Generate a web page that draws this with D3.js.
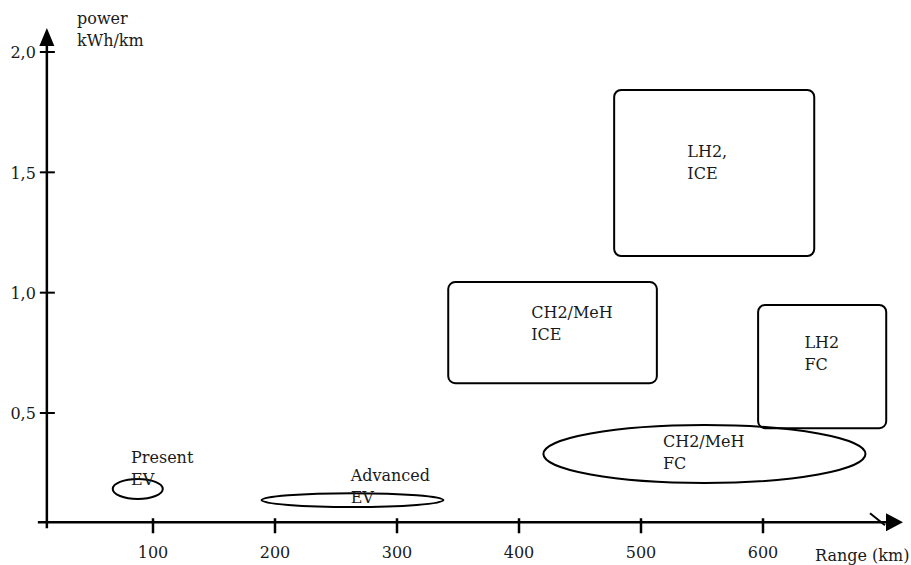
<!DOCTYPE html>
<html>
<head>
<meta charset="utf-8">
<script src="https://cdn.jsdelivr.net/npm/d3@7"></script>
<style>
  body { margin: 0; background: #fff; }
  text { font-family: "DejaVu Serif", serif; fill: #1a1a1a; }
</style>
</head>
<body>
<svg id="chart" width="911" height="565"></svg>
<script>
const W = 911, H = 565;

// tick values
const xTicks = [100, 200, 300, 400, 500, 600];
const yTicks = [0.5, 1.0, 1.5, 2.0];
const yTickLabels = ["0,5", "1,0", "1,5", "2,0"];

// ellipse regions: [x0, x1] range km, [y0, y1] kWh/km
const ellipseNames = ["Present EV", "Advanced EV", "CH2/MeH FC"];
const ellipseX = [[67, 108], [189, 338], [420, 684]];
const ellipseY = [[0.143, 0.226], [0.109, 0.167], [0.209, 0.450]];

// rounded box regions
const boxNames = ["CH2/MeH ICE", "LH2 FC", "LH2, ICE"];
const boxX = [[342, 513], [596, 701], [478, 642]];
const boxY = [[0.624, 1.044], [0.437, 0.949], [1.152, 1.842]];

// labels (two lines), anchored at data coords of first baseline
const labelLines = [["Present", "EV"], ["Advanced", "EV"], ["CH2/MeH", "ICE"], ["LH2,", "ICE"], ["LH2", "FC"], ["CH2/MeH", "FC"]];
const labelX = [82, 262, 410, 538, 634, 518];
const labelY = [0.292, 0.217, 0.894, 1.563, 0.769, 0.359];

// where the axes cross
const originX = 13, originY = 0.046;

const x = d3.scaleLinear().domain([100, 600]).range([153, 763]);
const y = d3.scaleLinear().domain([0.5, 2.0]).range([413, 52]);

const svg = d3.select("#chart");
const ax = x(originX), ay = y(originY);
const fs = 16;

// --- axes ---
const axes = svg.append("g").attr("stroke", "#000").attr("stroke-width", 2.5).attr("fill", "none");
axes.append("line").attr("x1", ax).attr("x2", ax).attr("y1", ay + 6).attr("y2", 40);
axes.append("line").attr("x1", ax - 9).attr("x2", 890).attr("y1", ay).attr("y2", ay);
// slash near end of x axis
axes.append("line").attr("x1", 870).attr("y1", ay - 9).attr("x2", 885).attr("y2", ay + 3).attr("stroke-width", 2);

svg.append("path").attr("d", `M${ax},28 L${ax - 7.5},46 L${ax + 7.5},46 Z`).attr("fill", "#000");
svg.append("path").attr("d", `M903,${ay} L886,${ay - 9} L886,${ay + 9} Z`).attr("fill", "#000");

// y ticks
const yt = svg.append("g");
yt.selectAll("line").data(yTicks).join("line")
  .attr("x1", ax - 7).attr("x2", ax + 8)
  .attr("y1", d => y(d)).attr("y2", d => y(d))
  .attr("stroke", "#000").attr("stroke-width", 2);
yt.selectAll("text").data(yTicks).join("text")
  .attr("x", ax - 11).attr("y", d => y(d)).attr("dy", "0.4em")
  .attr("text-anchor", "end").attr("font-size", fs)
  .text((d, i) => yTickLabels[i]);

// x ticks
const xt = svg.append("g");
xt.selectAll("line").data(xTicks).join("line")
  .attr("x1", d => x(d)).attr("x2", d => x(d))
  .attr("y1", ay - 4).attr("y2", ay + 11)
  .attr("stroke", "#000").attr("stroke-width", 2.5);
xt.selectAll("text").data(xTicks).join("text")
  .attr("x", d => x(d)).attr("y", 558)
  .attr("text-anchor", "middle").attr("font-size", fs)
  .text(d => d);

// axis titles
svg.append("text").attr("x", 77).attr("y", 24).attr("font-size", fs).text("power");
svg.append("text").attr("x", 77).attr("y", 46).attr("font-size", fs).text("kWh/km");
svg.append("text").attr("x", 815).attr("y", 561).attr("font-size", fs).text("Range (km)");

// --- regions ---
const shapes = svg.append("g").attr("fill", "none").attr("stroke", "#000").attr("stroke-width", 2);

shapes.selectAll("ellipse").data(ellipseNames).join("ellipse")
  .attr("cx", (d, i) => (x(ellipseX[i][0]) + x(ellipseX[i][1])) / 2)
  .attr("cy", (d, i) => (y(ellipseY[i][0]) + y(ellipseY[i][1])) / 2)
  .attr("rx", (d, i) => (x(ellipseX[i][1]) - x(ellipseX[i][0])) / 2)
  .attr("ry", (d, i) => (y(ellipseY[i][0]) - y(ellipseY[i][1])) / 2);

shapes.selectAll("rect").data(boxNames).join("rect")
  .attr("x", (d, i) => x(boxX[i][0]))
  .attr("y", (d, i) => y(boxY[i][1]))
  .attr("width", (d, i) => x(boxX[i][1]) - x(boxX[i][0]))
  .attr("height", (d, i) => y(boxY[i][0]) - y(boxY[i][1]))
  .attr("rx", 7);

// --- labels ---
const labels = svg.append("g").selectAll("text").data(labelLines).join("text")
  .attr("x", (d, i) => x(labelX[i]))
  .attr("y", (d, i) => y(labelY[i]))
  .attr("font-size", fs);
labels.selectAll("tspan").data(d => d).join("tspan")
  .attr("x", function() { return this.parentNode.getAttribute("x"); })
  .attr("dy", (d, j) => j === 0 ? 0 : 22)
  .text(d => d);
</script>
</body>
</html>
